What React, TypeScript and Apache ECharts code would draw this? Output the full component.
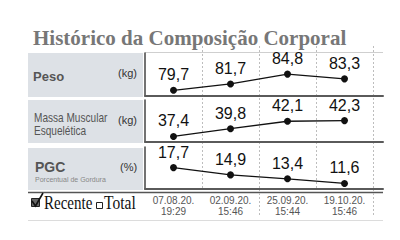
import React, { useEffect, useRef } from "react";
import * as echarts from "echarts";

const dates = ["07.08.20.\n19:29", "02.09.20.\n15:46", "25.09.20.\n15:44", "19.10.20.\n15:46"];
const peso = [79.7, 81.7, 84.8, 83.3];
const massa = [37.4, 39.8, 42.1, 42.3];
const pgc = [17.7, 14.9, 13.4, 11.6];

const rows = [
  { data: peso, top: 53, height: 43 },
  { data: massa, top: 100, height: 42 },
  { data: pgc, top: 147, height: 42 },
];

const SANS = "'Liberation Sans', Arial, sans-serif";
const SERIF = "'Liberation Serif', 'Times New Roman', serif";

export default function App() {
  const ref = useRef<HTMLDivElement>(null);
  useEffect(() => {
    if (!ref.current) return;
    const chart = echarts.init(ref.current, null, { renderer: "svg" });
    const grids: any[] = [];
    const xAxes: any[] = [];
    const yAxes: any[] = [];
    const series: any[] = [];

    rows.forEach((r, i) => {
      grids.push({ left: 145, right: 17, top: r.top, height: r.height });
      xAxes.push({
        type: "value",
        gridIndex: i,
        min: -0.5,
        max: 3.675,
        axisLine: { show: true, onZero: false, lineStyle: { color: "#5a5a5a", width: 2 } },
        axisTick: { show: false },
        axisLabel: { show: false },
        splitLine: { show: false },
      });
      yAxes.push({
        type: "value",
        gridIndex: i,
        scale: true,
        min: (v: any) => v.min - (v.max - v.min) * 0.35,
        max: (v: any) => v.max + (v.max - v.min) * 1.3,
        axisLine: { show: true, onZero: false, lineStyle: { color: "#444", width: 1.5 } },
        axisTick: { show: false },
        axisLabel: { show: false },
        splitLine: { show: false },
      });
      series.push({
        type: "line",
        xAxisIndex: i,
        yAxisIndex: i,
        data: r.data.map((v, k) => [k, v]),
        symbol: "circle",
        symbolSize: 7,
        itemStyle: { color: "#111" },
        lineStyle: { color: "#111", width: 1.3 },
        z: 5,
        label: {
          show: true,
          position: "top",
          distance: 4,
          fontSize: 16,
          fontFamily: SANS,
          color: "#111",
          formatter: (p: any) => String(p.value[1]).replace(".", ","),
        },
      });
    });

    // overlay grid for dotted column separators and date labels
    grids.push({ left: 145, right: 27, top: 46, height: 143 });
    xAxes.push({
      type: "category",
      gridIndex: 3,
      data: dates,
      axisLine: { show: false },
      axisTick: { show: false },
      axisLabel: { show: true, margin: 6, fontSize: 10, lineHeight: 11, color: "#555", fontFamily: SANS },
      splitLine: { show: true, showMinLine: false, lineStyle: { color: "#bdbdbd", type: [2, 2], width: 1 } },
      z: 0,
    });
    yAxes.push({ type: "value", gridIndex: 3, show: false, splitLine: { show: false } });
    grids.push({ left: 145, right: 27, top: 189, height: 26 });
    xAxes.push({
      type: "category",
      gridIndex: 4,
      data: dates,
      axisLine: { show: false },
      axisTick: { show: false },
      axisLabel: { show: false },
      splitLine: { show: true, showMinLine: false, lineStyle: { color: "#bdbdbd", type: [2, 2], width: 1 } },
      z: 0,
    });
    yAxes.push({ type: "value", gridIndex: 4, show: false, splitLine: { show: false } });

    const boxColor = "#dde1e6";
    const graphic: any[] = [
      { type: "text", x: 33, y: 27, style: { text: "Histórico da Composição Corporal", font: `bold 21px ${SERIF}`, fill: "#777", verticalAlign: "top" } },
      { type: "line", shape: { x1: 145, y1: 52.5, x2: 383, y2: 52.5 }, style: { stroke: "#cfcfcf", lineWidth: 1 } },
      { type: "rect", shape: { x: 28, y: 53, width: 115, height: 44 }, style: { fill: boxColor } },
      { type: "rect", shape: { x: 28, y: 100, width: 115, height: 43 }, style: { fill: boxColor } },
      { type: "rect", shape: { x: 28, y: 148, width: 115, height: 42 }, style: { fill: boxColor } },
      { type: "text", x: 33, y: 76, style: { text: "Peso", font: `bold 13px ${SANS}`, fill: "#555", verticalAlign: "middle" } },
      { type: "text", x: 118, y: 73, style: { text: "(kg)", font: `11px ${SANS}`, fill: "#333", verticalAlign: "middle" } },
      { type: "text", x: 34, y: 118, scaleX: 0.84, style: { text: "Massa Muscular", font: `12px ${SANS}`, fill: "#555", verticalAlign: "middle" } },
      { type: "text", x: 34, y: 131, scaleX: 0.84, style: { text: "Esquelética", font: `12px ${SANS}`, fill: "#555", verticalAlign: "middle" } },
      { type: "text", x: 118, y: 120, style: { text: "(kg)", font: `11px ${SANS}`, fill: "#333", verticalAlign: "middle" } },
      { type: "text", x: 35, y: 167, style: { text: "PGC", font: `bold 14px ${SANS}`, fill: "#555", verticalAlign: "middle" } },
      { type: "text", x: 35, y: 179, style: { text: "Porcentual de Gordura", font: `7px ${SANS}`, fill: "#888", verticalAlign: "middle" } },
      { type: "text", x: 120, y: 167, style: { text: "(%)", font: `11px ${SANS}`, fill: "#333", verticalAlign: "middle" } },
      { type: "line", shape: { x1: 28, y1: 192.5, x2: 383, y2: 192.5 }, style: { stroke: "#555", lineWidth: 1.5 } },
      { type: "line", shape: { x1: 28, y1: 220.5, x2: 383, y2: 220.5 }, style: { stroke: "#dcdcdc", lineWidth: 1 } },
      { type: "rect", shape: { x: 31.5, y: 198.5, width: 8, height: 8 }, style: { fill: "#666", stroke: "#222", lineWidth: 1 } },
      { type: "polyline", shape: { points: [[32, 201], [35.5, 206], [43, 193]] }, style: { stroke: "#111", lineWidth: 1.6, fill: null } },
      { type: "text", x: 44, y: 212, scaleX: 0.79, style: { text: "Recente", font: `19px ${SERIF}`, fill: "#111", verticalAlign: "bottom" } },
      { type: "rect", shape: { x: 96.5, y: 202.5, width: 6, height: 6 }, style: { fill: "#fff", stroke: "#222", lineWidth: 1 } },
      { type: "text", x: 104, y: 212, scaleX: 0.82, style: { text: "Total", font: `19px ${SERIF}`, fill: "#111", verticalAlign: "bottom" } },
    ];

    chart.setOption({
      animation: false,
      backgroundColor: "#fff",
      grid: grids,
      xAxis: xAxes,
      yAxis: yAxes,
      series,
      graphic,
    });
    return () => chart.dispose();
  }, []);
  return <div ref={ref} style={{ position: "absolute", left: 0, top: 0, width: 400, height: 240 }} />;
}
